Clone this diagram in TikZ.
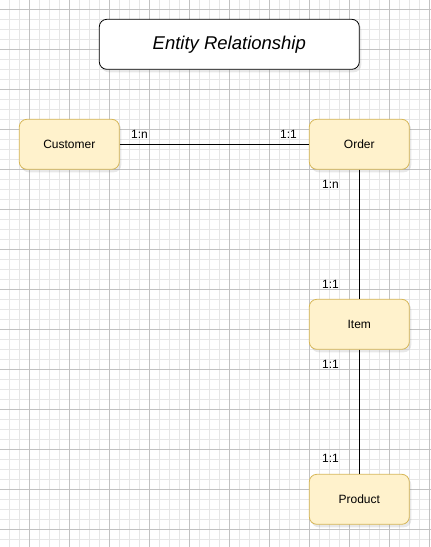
\documentclass[tikz,border=0pt]{standalone}
\usepackage{fontspec}
\setmainfont{Liberation Sans}
\usetikzlibrary{shadows}
\definecolor{entfill}{HTML}{FFF2CC}
\definecolor{entdraw}{HTML}{D6B656}
\definecolor{minorgrid}{HTML}{E6E6E6}
\definecolor{majorgrid}{HTML}{C2C2C2}
\begin{document}
\begin{tikzpicture}[x=1pt,y=-1pt,
  minorline/.style={draw=minorgrid, line width=0.8pt},
  majorline/.style={draw=majorgrid, line width=0.8pt},
  boxshadow/.style={drop shadow={shadow xshift=2pt, shadow yshift=-3pt, opacity=0.18, fill=gray}},
  entity/.style={draw=entdraw, fill=entfill, rounded corners=7.5pt, minimum width=100pt, minimum height=50pt, inner sep=0pt, line width=0.8pt, font=\fontsize{12}{14}\selectfont, boxshadow},
  titlebox/.style={draw=black, fill=white, rounded corners=7.5pt, minimum width=260pt, minimum height=50pt, inner sep=0pt, line width=0.8pt, font=\fontsize{18.5}{22}\selectfont\itshape, boxshadow},
  card/.style={inner sep=0pt, font=\fontsize{12}{14}\selectfont},
  rel/.style={draw=black, line width=1pt}
]
\useasboundingbox (0,0) rectangle (431,547);
\fill[white] (0,0) rectangle (431,547);
% grid
\foreach \k in {0,...,42} { \draw[minorline] (9.3+10*\k,0) -- (9.3+10*\k,547); }
\foreach \k in {0,...,53} { \draw[minorline] (0,9.3+10*\k) -- (431,9.3+10*\k); }
\foreach \k in {0,...,10} { \draw[majorline] (29.3+40*\k,0) -- (29.3+40*\k,547); }
\foreach \k in {0,...,13} { \draw[majorline] (0,9.3+40*\k) -- (431,9.3+40*\k); }
% nodes
\node[titlebox] (title) at (229.3,44.3) {Entity Relationship};
\node[entity] (cust) at (69.3,144.3) {Customer};
\node[entity] (order) at (359.3,144.3) {Order};
\node[entity] (item) at (359.3,324.3) {Item};
\node[entity] (prod) at (359.3,499.3) {Product};
% connectors
\draw[rel] (cust) -- (order);
\draw[rel] (order) -- (item);
\draw[rel] (item) -- (prod);
% cardinalities
\node[card, anchor=west] (c1) at (131,134) {1:n};
\node[card, anchor=east] (c2) at (297,134) {1:1};
\node[card, anchor=west] (c3) at (322,184) {1:n};
\node[card, anchor=west] (c4) at (322,284) {1:1};
\node[card, anchor=west] (c5) at (322,364) {1:1};
\node[card, anchor=west] (c6) at (322,458) {1:1};
\end{tikzpicture}
\end{document}
